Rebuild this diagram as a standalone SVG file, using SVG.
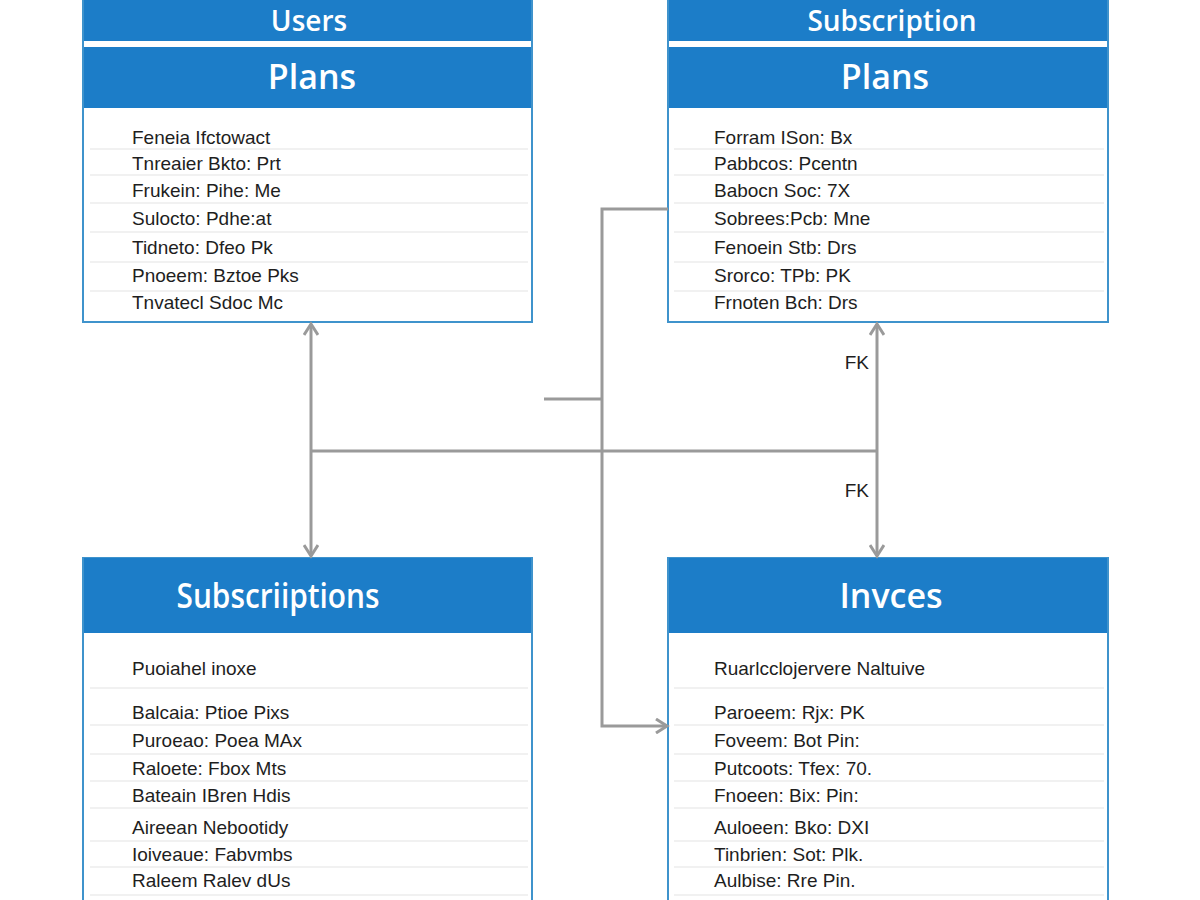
<svg xmlns="http://www.w3.org/2000/svg" width="1200" height="900" viewBox="0 0 1200 900">
  <style>
    .box { fill: #ffffff; stroke: #3f93cc; stroke-width: 2; }
    .head { fill: #1c7dc8; }
    .title { font-family: "Open Sans", "Noto Sans", "Liberation Sans", sans-serif; font-size: 34px; font-weight: 600; fill: #ffffff; text-anchor: middle; }
    .title-top { font-size: 28px; }
    .row { font-family: "Liberation Sans", "Noto Sans", sans-serif; font-size: 19px; fill: #1e1e1e; }
    .sep { stroke: #e4e4e4; stroke-width: 1.2; }
    .conn { fill: none; stroke: #9a9a9a; stroke-width: 3; }
    .fk { font-family: "Liberation Sans", "Noto Sans", sans-serif; font-size: 19px; fill: #1e1e1e; text-anchor: end; }
  </style>
  <defs>
    <marker id="chev" markerWidth="16" markerHeight="16" refX="13" refY="8" orient="auto-start-reverse" markerUnits="userSpaceOnUse">
      <path d="M2,1 L13,8 L2,15" fill="none" stroke="#9a9a9a" stroke-width="3"/>
    </marker>
  </defs>
  <rect width="1200" height="900" fill="#ffffff"/>

  <!-- Users / Plans table -->
  <g id="plans-left">
    <rect class="box" x="83" y="-10" width="449" height="332"/>
    <rect class="head" x="84" y="-10" width="447" height="51"/>
    <rect class="head" x="84" y="47" width="447" height="61"/>
    <text class="title title-top" x="309" y="31">Users</text>
    <text class="title" x="312" y="89">Plans</text>
    <g>
      <line class="sep" x1="90" y1="149" x2="528" y2="149"/>
      <line class="sep" x1="90" y1="175" x2="528" y2="175"/>
      <line class="sep" x1="90" y1="203" x2="528" y2="203"/>
      <line class="sep" x1="90" y1="232" x2="528" y2="232"/>
      <line class="sep" x1="90" y1="262" x2="528" y2="262"/>
      <line class="sep" x1="90" y1="291" x2="528" y2="291"/>
    </g>
    <text class="row" x="132" y="144">Feneia Ifctowact</text>
    <text class="row" x="132" y="170">Tnreaier Bkto: Prt</text>
    <text class="row" x="132" y="197">Frukein: Pihe: Me</text>
    <text class="row" x="132" y="225">Sulocto: Pdhe:at</text>
    <text class="row" x="132" y="254">Tidneto: Dfeo Pk</text>
    <text class="row" x="132" y="282">Pnoeem: Bztoe Pks</text>
    <text class="row" x="132" y="309">Tnvatecl Sdoc Mc</text>
  </g>

  <!-- Subscription / Plans table -->
  <g id="plans-right">
    <rect class="box" x="668" y="-10" width="440" height="332"/>
    <rect class="head" x="669" y="-10" width="438" height="51"/>
    <rect class="head" x="669" y="47" width="438" height="61"/>
    <text class="title title-top" x="892" y="31">Subscription</text>
    <text class="title" x="885" y="89">Plans</text>
    <g>
      <line class="sep" x1="674" y1="149" x2="1104" y2="149"/>
      <line class="sep" x1="674" y1="175" x2="1104" y2="175"/>
      <line class="sep" x1="674" y1="203" x2="1104" y2="203"/>
      <line class="sep" x1="674" y1="232" x2="1104" y2="232"/>
      <line class="sep" x1="674" y1="262" x2="1104" y2="262"/>
      <line class="sep" x1="674" y1="291" x2="1104" y2="291"/>
    </g>
    <text class="row" x="714" y="144">Forram ISon: Bx</text>
    <text class="row" x="714" y="170">Pabbcos: Pcentn</text>
    <text class="row" x="714" y="197">Babocn Soc: 7X</text>
    <text class="row" x="714" y="225">Sobrees:Pcb: Mne</text>
    <text class="row" x="714" y="254">Fenoein Stb: Drs</text>
    <text class="row" x="714" y="282">Srorco: TPb: PK</text>
    <text class="row" x="714" y="309">Frnoten Bch: Drs</text>
  </g>

  <!-- Subscriptions table -->
  <g id="subscriptions">
    <rect class="box" x="83" y="558" width="449" height="360"/>
    <rect class="head" x="84" y="558" width="447" height="75"/>
    <text class="title" x="278" y="608" textLength="203" lengthAdjust="spacingAndGlyphs">Subscriiptions</text>
    <g>
      <line class="sep" x1="90" y1="688" x2="528" y2="688"/>
      <line class="sep" x1="90" y1="725" x2="528" y2="725"/>
      <line class="sep" x1="90" y1="754" x2="528" y2="754"/>
      <line class="sep" x1="90" y1="781" x2="528" y2="781"/>
      <line class="sep" x1="90" y1="808" x2="528" y2="808"/>
      <line class="sep" x1="90" y1="841" x2="528" y2="841"/>
      <line class="sep" x1="90" y1="867" x2="528" y2="867"/>
      <line class="sep" x1="90" y1="895" x2="528" y2="895"/>
    </g>
    <text class="row" x="132" y="675">Puoiahel inoxe</text>
    <text class="row" x="132" y="719">Balcaia: Ptioe Pixs</text>
    <text class="row" x="132" y="747">Puroeao: Poea MAx</text>
    <text class="row" x="132" y="775">Raloete: Fbox Mts</text>
    <text class="row" x="132" y="802">Bateain IBren Hdis</text>
    <text class="row" x="132" y="834">Aireean Nebootidy</text>
    <text class="row" x="132" y="861">Ioiveaue: Fabvmbs</text>
    <text class="row" x="132" y="887">Raleem Ralev dUs</text>
  </g>

  <!-- Invoices table -->
  <g id="invoices">
    <rect class="box" x="668" y="558" width="440" height="360"/>
    <rect class="head" x="669" y="558" width="438" height="75"/>
    <text class="title" x="891" y="608">Invces</text>
    <g>
      <line class="sep" x1="674" y1="688" x2="1104" y2="688"/>
      <line class="sep" x1="674" y1="725" x2="1104" y2="725"/>
      <line class="sep" x1="674" y1="754" x2="1104" y2="754"/>
      <line class="sep" x1="674" y1="781" x2="1104" y2="781"/>
      <line class="sep" x1="674" y1="808" x2="1104" y2="808"/>
      <line class="sep" x1="674" y1="841" x2="1104" y2="841"/>
      <line class="sep" x1="674" y1="867" x2="1104" y2="867"/>
      <line class="sep" x1="674" y1="895" x2="1104" y2="895"/>
    </g>
    <text class="row" x="714" y="675">Ruarlcclojervere Naltuive</text>
    <text class="row" x="714" y="719">Paroeem: Rjx: PK</text>
    <text class="row" x="714" y="747">Foveem: Bot Pin:</text>
    <text class="row" x="714" y="775">Putcoots: Tfex: 70.</text>
    <text class="row" x="714" y="802">Fnoeen: Bix: Pin:</text>
    <text class="row" x="714" y="834">Auloeen: Bko: DXI</text>
    <text class="row" x="714" y="861">Tinbrien: Sot: Plk.</text>
    <text class="row" x="714" y="887">Aulbise: Rre Pin.</text>
  </g>

  <!-- Relationship lines -->
  <g id="connectors">
    <line class="conn" x1="311" y1="324" x2="311" y2="556" marker-start="url(#chev)" marker-end="url(#chev)"/>
    <line class="conn" x1="877" y1="324" x2="877" y2="556" marker-start="url(#chev)" marker-end="url(#chev)"/>
    <line class="conn" x1="311" y1="451" x2="877" y2="451"/>
    <polyline class="conn" points="668,209 602,209 602,726 667,726" marker-end="url(#chev)"/>
    <line class="conn" x1="544" y1="399" x2="602" y2="399"/>
    <text class="fk" x="869" y="369">FK</text>
    <text class="fk" x="869" y="497">FK</text>
  </g>
</svg>
